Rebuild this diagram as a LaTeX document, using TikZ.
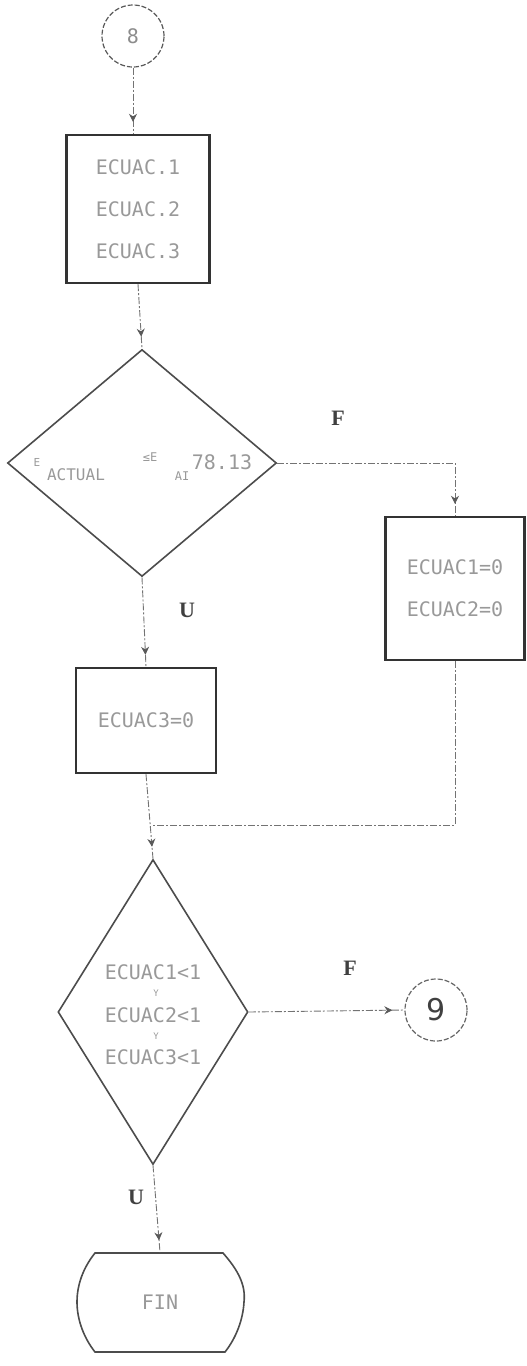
\documentclass[tikz,border=0pt]{standalone}
\usepackage{fontspec}
\newfontfamily\dmfont{DejaVu Sans Mono}
\newfontfamily\lblfont{Liberation Serif}
\newfontfamily\numfont{DejaVu Sans}
\usetikzlibrary{shapes.geometric,arrows.meta,decorations.markings}
\begin{document}
\begin{tikzpicture}[x=1pt,y=-1pt,
 boxnode/.style={draw=black!80, line width=2.4pt, rectangle, inner sep=0pt, font=\dmfont\fontsize{20}{42}\selectfont, text=black!40, align=center},
 decnode/.style={draw=black!70, line width=1.6pt, diamond, inner sep=0pt},
 connnode/.style={draw=black!65, line width=1.2pt, circle, inner sep=0pt, minimum size=62pt, dash pattern=on 5pt off 2pt},
 flow/.style={draw=black!55, line width=0.9pt, dash pattern=on 7pt off 2pt on 2pt off 2pt},
 flowarrow/.style={flow, postaction={decorate}, decoration={markings, mark=at position -12pt with {\arrow{Stealth[length=8pt,width=8pt,color=black!65]}}}},
 lbl/.style={font=\lblfont\bfseries\fontsize{22}{22}\selectfont, text=black!75},
 dmtext/.style={text=black!40, inner sep=0pt}
]
\useasboundingbox (0,0) rectangle (527,1366);

% nodes
\node[connnode, font=\dmfont\fontsize{20}{20}\selectfont, text=black!45] (c8) at (133,36) {8};
\node[boxnode, minimum width=143pt, minimum height=148pt] (b1) at (138,209) {ECUAC.1\\ECUAC.2\\ECUAC.3};
\node[decnode, minimum width=269pt, minimum height=227pt, aspect=1.185] (d1) at (142,463) {};
\node[boxnode, minimum width=139pt, minimum height=143pt] (b2) at (455,588.5) {ECUAC1=0\\ECUAC2=0};
\node[boxnode, minimum width=140pt, minimum height=105pt] (b3) at (146,720.5) {ECUAC3=0};
\node[decnode, minimum width=190pt, minimum height=305pt, aspect=0.623] (d2) at (153,1012) {};
\node[connnode, draw=black!60, font=\numfont\fontsize{30}{30}\selectfont, text=black!75] (c9) at (436,1010) {9};
\node[inner sep=0pt, minimum width=165pt, minimum height=99pt, font=\dmfont\fontsize{20}{20}\selectfont, text=black!40] (fin) at (160,1302) {FIN};

% terminal outline
\draw[black!70, line width=1.6pt] (95,1253) -- (223,1253)
  .. controls (238,1270) and (246,1285) .. (244,1302)
  .. controls (243,1320) and (236,1338) .. (225,1352) -- (95,1352)
  .. controls (84,1338) and (77,1320) .. (77,1302)
  .. controls (77,1285) and (83,1268) .. (95,1253) -- cycle;

% decision texts
\node[dmtext, font=\dmfont\fontsize{11}{11}\selectfont] (t1) at (37,462) {E};
\node[dmtext, font=\dmfont\fontsize{16}{16}\selectfont] (t2) at (76,475) {ACTUAL};
\node[dmtext, font=\dmfont\fontsize{12}{12}\selectfont] (t3) at (150,457) {≤E};
\node[dmtext, font=\dmfont\fontsize{12}{12}\selectfont] (t4) at (182,476) {AI};
\node[dmtext, font=\dmfont\fontsize{20}{20}\selectfont] (t5) at (222,462) {78.13};

\node[dmtext, align=center, font=\dmfont\fontsize{20}{42.5}\selectfont] (t6) at (153,1015) {ECUAC1<1\\ECUAC2<1\\ECUAC3<1};
\node[dmtext, font=\dmfont\fontsize{9}{9}\selectfont] (y1) at (156,993) {Y};
\node[dmtext, font=\dmfont\fontsize{9}{9}\selectfont] (y2) at (156,1036) {Y};

% labels
\node[lbl] (lf1) at (338,418) {F};
\node[lbl] (lu1) at (187,610) {U};
\node[lbl] (lf2) at (350,968) {F};
\node[lbl] (lu2) at (136,1197) {U};

% connectors
\coordinate (m) at (d2.north |- 0,825);
\draw[flowarrow] (c8.south) -- (c8.south |- b1.north);
\draw[flowarrow] (b1.south) -- (d1.north);
\draw[flowarrow] (d1.east) -| (b2.north);
\draw[flowarrow] (d1.south) -- (b3.north);
\draw[flowarrow] (b3.south) -- (d2.north);
\draw[flow] (b2.south) |- (m);
\draw[flowarrow] (d2.east) -- (c9.west);
\draw[flowarrow] (d2.south) -- (fin.north);
\end{tikzpicture}
\end{document}
